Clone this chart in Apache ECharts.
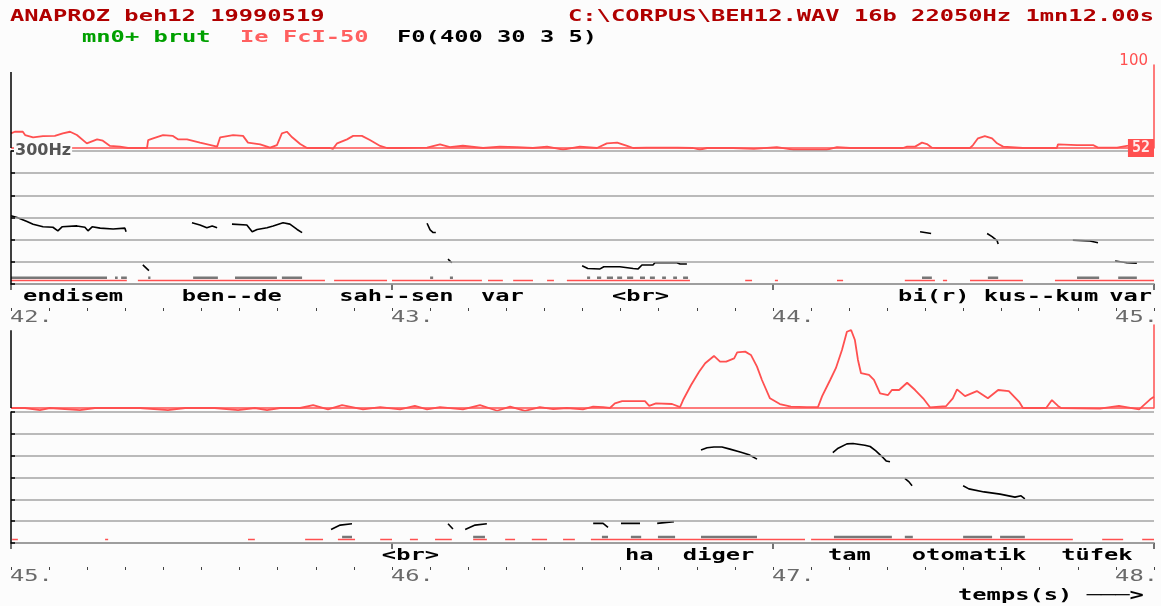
<!DOCTYPE html>
<html><head><meta charset="utf-8">
<script src="https://cdn.jsdelivr.net/npm/echarts@6/dist/echarts.min.js"></script>
<style>html,body{margin:0;padding:0;background:#fcfcfc;}#c{width:1161px;height:606px;}</style>
</head><body><div id="c"></div>
<script>
// ---------------- DATA ----------------
const panel1Range = [42, 45];
const panel2Range = [45, 48];
const tickLabels1 = [42, 43, 44, 45];
const tickLabels2 = [45, 46, 47, 48];
const intensityScale = [52, 100];
const f0Scale = [0, 300];

// intensity (red curve), [time s, level]
const intensity1 = [[42.000,60.5],[42.010,61.4],[42.031,61.4],[42.037,59.5],[42.058,58.2],[42.084,58.9],[42.115,59.0],[42.136,60.5],[42.155,61.4],[42.173,59.5],[42.199,54.7],[42.226,57.0],[42.241,56.2],[42.260,53.2],[42.286,52.8],[42.307,52.0],[42.357,52.0],[42.360,56.6],[42.373,57.6],[42.399,59.5],[42.425,59.0],[42.438,57.0],[42.462,57.0],[42.496,55.1],[42.541,52.8],[42.549,58.2],[42.583,59.5],[42.609,59.0],[42.622,55.1],[42.654,54.1],[42.680,52.2],[42.698,53.7],[42.711,60.5],[42.724,61.4],[42.738,58.2],[42.759,54.3],[42.777,52.0],[42.837,52.0],[42.845,51.5],[42.856,54.7],[42.882,57.0],[42.898,59.0],[42.921,59.0],[42.942,56.6],[42.969,53.2],[42.987,52.0],[43.021,52.0],[43.092,52.2],[43.126,54.1],[43.152,52.5],[43.186,53.3],[43.239,52.0],[43.283,52.8],[43.328,52.5],[43.370,52.0],[43.407,52.8],[43.449,51.0],[43.493,52.8],[43.538,52.0],[43.564,54.7],[43.591,55.1],[43.617,53.2],[43.633,52.0],[43.669,52.2],[43.748,52.2],[43.790,52.0],[43.808,51.0],[43.827,52.0],[43.895,52.0],[43.950,51.5],[44.010,52.5],[44.052,51.0],[44.105,51.0],[44.142,51.0],[44.168,52.5],[44.202,52.0],[44.228,52.0],[44.341,52.0],[44.352,52.8],[44.373,52.8],[44.391,55.1],[44.404,54.3],[44.417,52.2],[44.430,52.0],[44.517,52.0],[44.525,53.7],[44.538,57.6],[44.556,58.9],[44.575,57.6],[44.588,54.7],[44.604,52.8],[44.656,52.0],[44.745,52.0],[44.748,54.1],[44.798,53.7],[44.840,53.7],[44.853,52.2],[44.903,52.2],[44.929,53.2],[44.955,53.7],[45.000,53.5]];
const intensity2 = [[45.000,52.0],[45.037,52.0],[45.076,50.8],[45.102,52.0],[45.181,50.8],[45.220,52.0],[45.339,52.0],[45.412,50.8],[45.457,52.0],[45.535,52.0],[45.596,50.8],[45.640,52.0],[45.672,50.8],[45.706,52.0],[45.759,52.0],[45.793,53.7],[45.832,51.2],[45.869,53.7],[45.924,51.2],[45.969,52.5],[46.021,51.2],[46.060,53.2],[46.092,51.2],[46.126,52.5],[46.186,51.2],[46.231,53.7],[46.276,50.4],[46.310,52.8],[46.349,50.4],[46.388,52.5],[46.423,51.3],[46.459,52.0],[46.501,51.2],[46.528,52.8],[46.554,52.5],[46.572,52.0],[46.585,54.7],[46.604,56.0],[46.664,56.0],[46.675,53.2],[46.693,54.7],[46.735,54.3],[46.756,52.5],[46.764,56.6],[46.785,65.3],[46.806,73.0],[46.822,77.9],[46.845,82.1],[46.861,78.8],[46.877,78.8],[46.898,80.7],[46.906,84.2],[46.927,84.6],[46.942,82.7],[46.958,75.9],[46.971,68.2],[46.992,57.6],[47.018,54.3],[47.047,52.8],[47.089,52.5],[47.118,52.5],[47.129,58.9],[47.150,68.2],[47.165,75.0],[47.181,85.5],[47.194,96.1],[47.205,97.1],[47.215,91.3],[47.223,79.8],[47.231,72.1],[47.252,71.1],[47.265,68.2],[47.281,60.5],[47.302,59.5],[47.312,62.4],[47.331,62.4],[47.352,66.6],[47.373,62.4],[47.394,57.6],[47.412,52.4],[47.454,53.0],[47.472,57.6],[47.483,62.8],[47.504,58.9],[47.535,61.8],[47.564,57.6],[47.591,62.4],[47.619,61.8],[47.646,55.6],[47.656,52.0],[47.717,52.0],[47.732,56.6],[47.748,53.2],[47.756,52.0],[47.858,51.6],[47.908,53.2],[47.961,51.2],[47.990,57.0],[48.000,58.5]];

// F0 contour segments (black), [time s, Hz]
const f0Panel1 = [
 [[42.000,154],[42.016,150],[42.042,141],[42.058,135],[42.084,129],[42.110,128],[42.123,120],[42.134,129],[42.173,131],[42.194,128],[42.202,120],[42.213,129],[42.234,126],[42.268,124],[42.299,126],[42.302,118]],
 [[42.346,43],[42.362,30]],
 [[42.475,138],[42.496,133],[42.514,127],[42.528,131],[42.541,127]],
 [[42.580,135],[42.619,133],[42.633,118],[42.646,123],[42.672,127],[42.688,131],[42.714,138],[42.732,135],[42.751,123],[42.764,116]],
 [[43.092,137],[43.100,122],[43.108,116],[43.115,116]],
 [[43.147,56],[43.157,48]],
 [[43.499,41],[43.514,35],[43.546,34],[43.556,39],[43.598,39],[43.633,35],[43.646,34],[43.656,43],[43.685,43],[43.690,48],[43.748,48],[43.756,45],[43.774,45]],
 [[44.386,118],[44.415,114]],
 [[44.562,114],[44.575,107],[44.588,98],[44.591,90]],
 [[44.787,99],[44.832,97],[44.853,93]],
 [[44.898,52],[44.929,48],[44.955,47]]
];
const f0Panel2 = [
 [[45.840,31],[45.864,41],[45.895,44]],
 [[46.147,44],[46.160,32]],
 [[46.192,31],[46.218,41],[46.249,44]],
 [[46.528,45],[46.554,45],[46.567,36]],
 [[46.601,45],[46.651,45]],
 [[46.696,45],[46.740,49]],
 [[46.811,213],[46.827,218],[46.845,220],[46.866,220],[46.887,215],[46.916,208],[46.937,202],[46.958,192]],
 [[47.157,207],[47.171,217],[47.194,227],[47.210,228],[47.241,224],[47.255,221],[47.270,211],[47.286,198],[47.297,188],[47.307,186]],
 [[47.346,148],[47.357,140],[47.365,131]],
 [[47.499,131],[47.514,124],[47.554,117],[47.596,112],[47.635,105],[47.651,108],[47.661,101]]
];

// voicing intervals (red dashes) and gray marks, [start s, end s]
const voiced1 = [[42.000,42.304],[42.333,42.824],[42.848,42.987],[43.000,43.236],[43.252,43.291],[43.318,43.370],[43.407,43.425],[43.459,43.782],[43.927,43.945],[44.005,44.013],[44.168,44.184],[44.346,44.425],[44.446,44.457],[44.517,44.656],[44.740,45.000]];
const marks1 = [[42.000,42.252],[42.273,42.280],[42.289,42.304],[42.360,42.366],[42.478,42.543],[42.588,42.698],[42.711,42.764],[43.100,43.108],[43.152,43.160],[43.512,43.520],[43.538,43.549],[43.564,43.580],[43.591,43.604],[43.617,43.633],[43.651,43.664],[43.677,43.690],[43.709,43.719],[43.738,43.748],[43.764,43.777],[44.391,44.417],[44.564,44.591],[44.798,44.856],[44.906,44.955]];
const voiced2 = [[45.003,45.018],[45.247,45.255],[45.622,45.640],[45.772,45.819],[45.858,45.903],[45.969,46.000],[46.047,46.068],[46.113,46.157],[46.213,46.249],[46.297,46.323],[46.367,46.407],[46.449,46.480],[46.522,47.084],[47.100,47.787],[47.864,47.919],[47.969,48.000]];
const marks2 = [[45.869,45.895],[46.213,46.244],[46.551,46.567],[46.627,46.654],[46.698,46.743],[46.811,46.958],[47.160,47.312],[47.346,47.367],[47.499,47.575],[47.596,47.661]];

// word annotations, [text, start time s]
const words1 = [['endisem',42.034],['ben--de',42.451],['sah--sen',42.864],['var',43.236],['<br>',43.580],['bi(r)',44.331],['kus--kum',44.556],['var',44.885]];
const words2 = [['<br>',45.976],['ha',46.614],['diger',46.766],['tam',47.147],['otomatik',47.367],['tüfek',47.759]];

// ---------------- STYLE ----------------
const FONT_B = 'bold 15px "DejaVu Sans Mono"';
const FONT_R = '15px "DejaVu Sans Mono"';
const SX = 1.583;
const RED = '#ff5050';
const VOICE_LEVEL = 8, MARK_LEVEL = 14;
const L = 11, W = 1143;

function segData(segs) {
  const d = [];
  segs.forEach(s => { s.forEach(p => d.push(p)); d.push([s[s.length-1][0], '-']); });
  return d;
}
function ivData(iv, lvl) {
  const d = [];
  iv.forEach(([a,b]) => { d.push([a,lvl],[b,lvl],[b,'-']); });
  return d;
}
function wordSeries(words, xi, yi) {
  return {type:'custom', xAxisIndex:xi, yAxisIndex:yi, silent:true, clip:false, z:6,
    data: words.map(w => [w[1], 0]),
    renderItem: (params, api) => {
      const p = api.coord([api.value(0), 0]);
      return {type:'text', x:p[0]-1, y:p[1]+13, scaleX:SX,
        style:{text:words[params.dataIndex][0], font:FONT_B, fill:'#000', verticalAlign:'middle', align:'left'}};
    }};
}
function tickSeries(ticks, range, xi, yi) {
  return {type:'custom', xAxisIndex:xi, yAxisIndex:yi, silent:true, clip:false, z:6,
    data: ticks.map(t => [t, 0]),
    renderItem: (params, api) => {
      const t = api.value(0);
      const p = api.coord([t, 0]);
      const last = t === range[1];
      return {type:'text', x: last ? p[0]+4 : p[0]-1, y:p[1]+34, scaleX:SX,
        style:{text:String(t)+'.', font:FONT_R, fill:'#6a6a6a', verticalAlign:'middle', align: last ? 'right' : 'left'}};
    }};
}
function intensitySeries(data, range, xi, yi, axisTop) {
  const ml = [
    {yAxis:intensityScale[0], lineStyle:{color:RED, width:1.5, type:'solid'}},
    [{coord:[range[0], intensityScale[0]], lineStyle:{color:'#000', width:1.5, type:'solid'}}, {coord:[range[0], axisTop]}]
  ];
  return {type:'line', xAxisIndex:xi, yAxisIndex:yi, data:data, symbol:'none', clip:false, z:3,
    lineStyle:{color:RED, width:1.8}, silent:true,
    markLine:{silent:true, symbol:['none','none'], label:{show:false}, animation:false, data:ml}};
}
function timeAxes(range, gi) {
  return [
    {type:'value', gridIndex:gi, min:range[0], max:range[1], interval:1, position:'bottom', offset:24,
      axisLine:{show:true, lineStyle:{color:'#666', width:1.5}}, axisTick:{show:true, length:6, lineStyle:{color:'#444', width:1.5}},
      axisLabel:{show:false}, splitLine:{show:false}},
    {type:'value', gridIndex:gi, min:range[0], max:range[1], interval:0.1, position:'bottom', offset:24,
      axisLine:{show:false}, axisTick:{show:true, length:3, lineStyle:{color:'#444', width:1}},
      axisLabel:{show:false}, splitLine:{show:false}}
  ];
}
function hiddenX(range, gi) {
  return {type:'value', gridIndex:gi, min:range[0], max:range[1], show:false};
}
function f0Axis(gi, label) {
  return {type:'value', gridIndex:gi, min:f0Scale[0], max:f0Scale[1], interval:50, z:10,
    axisLine:{show:true, lineStyle:{color:'#000', width:1.5}},
    axisTick:{show:true, inside:true, length:4, lineStyle:{color:'#000', width:1.5}},
    splitLine:{show:true, lineStyle:{color:'#a4a4a4', width:1.5}},
    axisLabel:{show:label, inside:true, margin:3,
      formatter: v => v === 300 ? '300Hz' : '',
      color:'#555', fontFamily:'DejaVu Sans', fontWeight:'bold', fontSize:16,
      backgroundColor:'#fcfcfc', padding:[0,1,0,1]}};
}
function intensityAxis(gi, labels) {
  return {type:'value', gridIndex:gi, min:intensityScale[0], max:intensityScale[1], interval:48, position:'right',
    axisLine:{show:true, onZero:false, lineStyle:{color:RED, width:1.5}}, axisTick:{show:false}, splitLine:{show:false}, z:10,
    axisLabel:{show:labels, inside:true, margin:0,
      formatter: v => v === 100 ? '{a|100}' : (v === 52 ? '{b|52}' : ''),
      rich:{
        a:{color:RED, fontFamily:'DejaVu Sans', fontSize:15, padding:[0,6,7,0]},
        b:{color:'#ffe8e8', backgroundColor:RED, fontFamily:'DejaVu Sans Mono', fontWeight:'bold', fontSize:15, padding:[2,4,1,4]}
      }}};
}

const chart = echarts.init(document.getElementById('c'), null, {renderer:'canvas'});
const option = {
  animation:false,
  backgroundColor:'#fcfcfc',
  grid:[
    {left:L, width:W, top:65, height:83, outerBoundsMode:'none'},
    {left:L, width:W, top:151, height:133, outerBoundsMode:'none'},
    {left:L, width:W, top:325, height:83, outerBoundsMode:'none'},
    {left:L, width:W, top:412, height:131, outerBoundsMode:'none'}
  ],
  xAxis:[
    hiddenX(panel1Range, 0),
    ...timeAxes(panel1Range, 1),
    hiddenX(panel2Range, 2),
    ...timeAxes(panel2Range, 3)
  ],
  yAxis:[
    intensityAxis(0, true),
    f0Axis(1, true),
    intensityAxis(2, false),
    f0Axis(3, false)
  ],
  graphic:{elements:[
    {type:'text', x:10, y:17, scaleX:SX, z:20, style:{text:'ANAPROZ beh12 19990519', fill:'#b00000', font:FONT_B, verticalAlign:'middle'}},
    {type:'text', x:568, y:17, scaleX:SX, z:20, style:{text:'C:\\CORPUS\\BEH12.WAV 16b 22050Hz 1mn12.00s', fill:'#b00000', font:FONT_B, verticalAlign:'middle'}},
    {type:'text', x:82, y:38, scaleX:SX, z:20, style:{text:'mn0+ brut', fill:'#00a000', font:FONT_B, verticalAlign:'middle'}},
    {type:'text', x:240, y:38, scaleX:SX, z:20, style:{text:'Ie FcI-50', fill:'#ff6060', font:FONT_B, verticalAlign:'middle'}},
    {type:'text', x:397, y:38, scaleX:SX, z:20, style:{text:'F0(400 30 3 5)', fill:'#000', font:FONT_B, verticalAlign:'middle'}},
    {type:'text', x:958, y:596, scaleX:SX, z:20, style:{text:'temps(s) \u2500\u2500\u2500>', fill:'#000', font:FONT_B, verticalAlign:'middle'}}
  ]},
  series:[
    intensitySeries(intensity1, panel1Range, 0, 0, 96),
    {type:'line', xAxisIndex:1, yAxisIndex:1, data:segData(f0Panel1), symbol:'none', connectNulls:false, silent:true, z:4,
      lineStyle:{color:'#000', width:1.6}},
    {type:'line', xAxisIndex:1, yAxisIndex:1, data:ivData(marks1, MARK_LEVEL), symbol:'none', connectNulls:false, silent:true, z:3,
      lineStyle:{color:'#777', width:2.5}},
    {type:'line', xAxisIndex:1, yAxisIndex:1, data:ivData(voiced1, VOICE_LEVEL), symbol:'none', connectNulls:false, silent:true, z:3,
      lineStyle:{color:RED, width:1.5}},
    wordSeries(words1, 1, 1),
    tickSeries(tickLabels1, panel1Range, 1, 1),

    intensitySeries(intensity2, panel2Range, 3, 2, 97),
    {type:'line', xAxisIndex:4, yAxisIndex:3, data:segData(f0Panel2), symbol:'none', connectNulls:false, silent:true, z:4,
      lineStyle:{color:'#000', width:1.6}},
    {type:'line', xAxisIndex:4, yAxisIndex:3, data:ivData(marks2, MARK_LEVEL), symbol:'none', connectNulls:false, silent:true, z:3,
      lineStyle:{color:'#777', width:2.5}},
    {type:'line', xAxisIndex:4, yAxisIndex:3, data:ivData(voiced2, VOICE_LEVEL), symbol:'none', connectNulls:false, silent:true, z:3,
      lineStyle:{color:RED, width:1.5}},
    wordSeries(words2, 4, 3),
    tickSeries(tickLabels2, panel2Range, 4, 3)
  ]
};
chart.setOption(option);
</script></body></html>
